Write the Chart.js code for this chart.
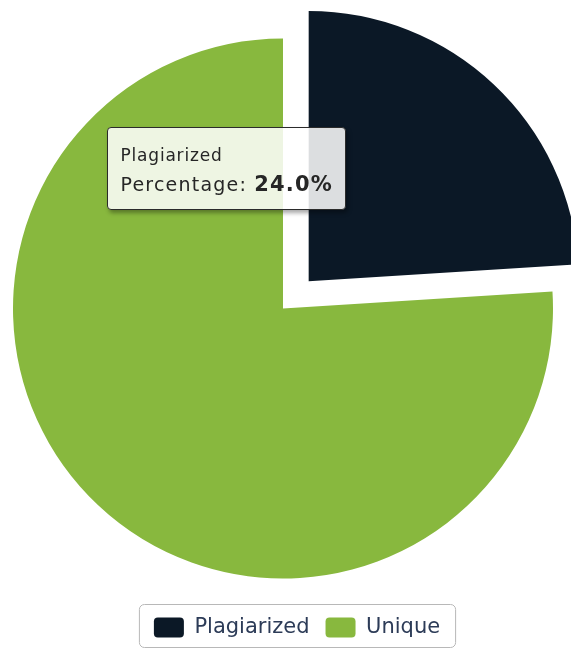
<!DOCTYPE html>
<html>
<head>
<meta charset="utf-8">
<script src="https://cdn.jsdelivr.net/npm/chart.js@4"></script>
<style>
    body { margin: 0; background: #ffffff; }
    #wrap { position: relative; width: 571px; height: 651px; }
    #tip {
        position: absolute;
        pointer-events: none;
        font-family: "DejaVu Sans", Verdana, sans-serif;
        color: #262626;
        background: rgba(255, 255, 255, 0.86);
        border: 1.5px solid #2b2b2b;
        border-radius: 4px;
        box-shadow: 2px 3px 4px rgba(0, 0, 0, 0.35);
        padding: 17px 12px 13px 12.5px;
        white-space: nowrap;
        opacity: 0;
    }
    #tip .t { font-size: 17px; line-height: 20px; letter-spacing: 0.8px; margin-bottom: 7px; }
    #tip .b { font-size: 19px; line-height: 24px; letter-spacing: 1.2px; }
    #tip .b b { font-size: 21px; }
</style>
</head>
<body>
<div id="wrap">
    <canvas id="chartPlagio"></canvas>
    <div id="tip"></div>
</div>
<script>
const labelsPlagio = ["Plagiarized", "Unique"];
const valoresPlagio = [24, 76];
const coresPlagio = ["#0b1826", "#88b83e"];

const plagio = document.getElementById("chartPlagio");
const tip = document.getElementById("tip");

// tooltip fica fixo no canto de cima, como no print
Chart.Tooltip.positioners.canto = function () {
    return { x: 107, y: 127 };
};

function tooltipExterno(context) {
    const model = context.tooltip;
    if (model.opacity === 0) {
        tip.style.opacity = 0;
        return;
    }
    const item = model.dataPoints[0];
    tip.innerHTML = '<div class="t">' + item.label + '</div>' +
        '<div class="b">Percentage: <b>' + item.raw.toFixed(1) + '%</b></div>';
    tip.style.left = model.x + "px";
    tip.style.top = model.y + "px";
    tip.style.opacity = 1;
}

const bordaLegenda = {
    id: "bordaLegenda",
    afterLayout(chart) {
        // a legenda do print fica um pouco para a direita da pizza
        chart.legend.left += 14;
        chart.legend.right += 14;
    },
    afterDraw(chart) {
        const boxes = chart.legend.legendHitBoxes;
        if (!boxes || !boxes.length) return;
        let left = Infinity, right = -Infinity, top = Infinity, bottom = -Infinity;
        boxes.forEach(b => {
            left = Math.min(left, b.left);
            right = Math.max(right, b.left + b.width);
            top = Math.min(top, b.top);
            bottom = Math.max(bottom, b.top + b.height);
        });
        const ctx = chart.ctx;
        ctx.save();
        ctx.strokeStyle = "#b8b8b8";
        ctx.lineWidth = 1;
        ctx.beginPath();
        ctx.roundRect(left - 14.5, top - 12.5, right - left + 30, bottom - top + 22, 5);
        ctx.stroke();
        ctx.restore();
    }
};

const dataPlagio = {
    labels: labelsPlagio,
    datasets: [{
        data: valoresPlagio,
        backgroundColor: coresPlagio,
        borderWidth: 0,
        offset: [150, 0],
        hoverOffset: 0
    }]
};

const grafico = new Chart(plagio, {
    type: "pie",
    data: dataPlagio,
    plugins: [bordaLegenda],
    options: {
        responsive: true,
        maintainAspectRatio: false,
        animation: false,
        radius: 270,
        layout: {
            padding: { top: 16, right: 5, bottom: 3 }
        },
        plugins: {
            legend: {
                position: "bottom",
                align: "center",
                labels: {
                    color: "#2c3b57",
                    boxWidth: 30,
                    boxHeight: 20,
                    useBorderRadius: true,
                    borderRadius: 4,
                    padding: 16,
                    font: { family: "DejaVu Sans", size: 21 }
                }
            },
            tooltip: {
                enabled: false,
                position: "canto",
                xAlign: "left",
                yAlign: "top",
                caretSize: 0,
                caretPadding: 0,
                cornerRadius: 0,
                external: tooltipExterno
            }
        }
    }
});

grafico.tooltip.setActiveElements([{ datasetIndex: 0, index: 0 }], { x: 107, y: 127 });
grafico.update();
</script>
</body>
</html>
